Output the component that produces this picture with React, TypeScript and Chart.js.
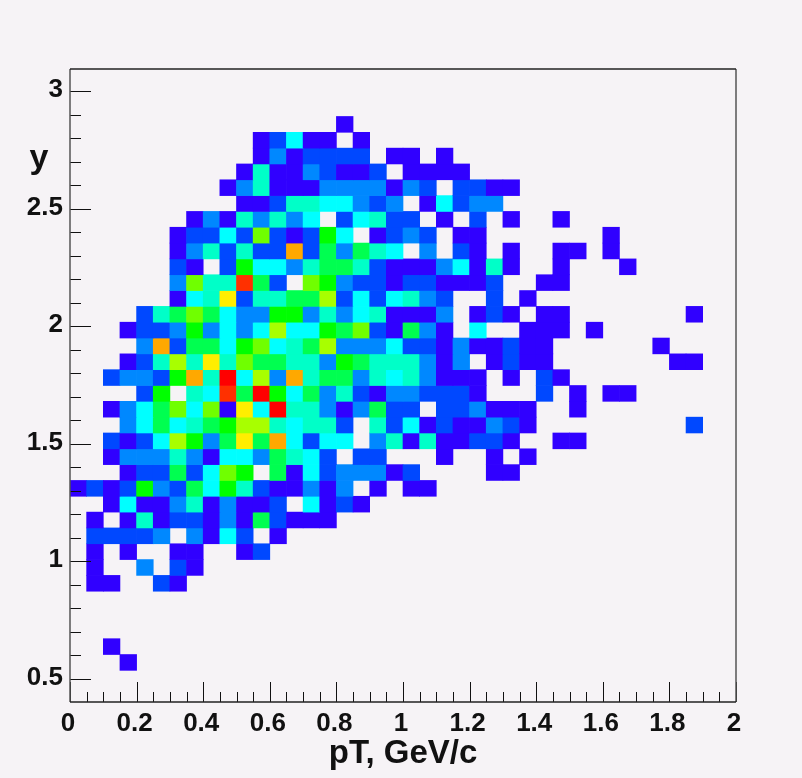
import React, { useEffect, useRef } from "react";
import { Chart, registerables } from "chart.js";

Chart.register(...registerables);

const BACKGROUND = "#f6f3f6";
const levelColors = ["", "#3000ff", "#0048ff", "#0088ff", "#00ffff", "#00ffc8", "#00ff50", "#00ff00", "#70ff00", "#a8ff00", "#ffee00", "#ffa800", "#ff3000", "#ff0000"];

const xBinWidth = 0.05;
const yLow = 0.4;
const yHigh = 3.095;
const yBinHeight = 0.067375;

const xMajor = [0, 0.2, 0.4, 0.6, 0.8, 1, 1.2, 1.4, 1.6, 1.8, 2];
const xMinor = [0.05, 0.1, 0.15, 0.25, 0.3, 0.35, 0.45, 0.5, 0.55, 0.65, 0.7, 0.75, 0.85, 0.9, 0.95, 1.05, 1.1, 1.15, 1.25, 1.3, 1.35, 1.45, 1.5, 1.55, 1.65, 1.7, 1.75, 1.85, 1.9, 1.95];
const yMajor = [0.5, 1, 1.5, 2, 2.5, 3];
const yMinor = [0.6, 0.7, 0.8, 0.9, 1.1, 1.2, 1.3, 1.4, 1.6, 1.7, 1.8, 1.9, 2.1, 2.2, 2.3, 2.4, 2.6, 2.7, 2.8, 2.9];

// Each row: y-bin index, first x-bin index, level per consecutive x bin (0 = empty)
const row02 = [1];
const row03 = [1];
const row07 = [1, 1, 0, 0, 2, 1];
const row08 = [1, 0, 0, 3, 0, 2, 1];
const row09 = [1, 0, 1, 0, 0, 1, 1, 0, 0, 1, 2];
const row10 = [2, 2, 2, 2, 3, 0, 3, 1, 4, 2, 0, 1];
const row11 = [1, 0, 1, 5, 1, 2, 2, 1, 3, 1, 6, 2, 1, 1, 1];
const row12 = [1, 4, 1, 1, 3, 5, 1, 3, 1, 1, 2, 0, 4, 1, 2, 1];
const row13 = [1, 2, 1, 2, 7, 3, 2, 6, 4, 7, 5, 2, 1, 1, 3, 1, 3, 0, 1, 0, 1, 1];
const row14 = [1, 2, 2, 6, 2, 4, 8, 7, 0, 6, 1, 4, 2, 3, 3, 3, 1, 2, 0, 0, 0, 0, 1, 1];
const row15 = [1, 3, 3, 3, 5, 3, 1, 4, 4, 3, 6, 5, 4, 2, 0, 2, 2, 0, 0, 0, 1, 0, 0, 1, 0, 1];
const row16 = [2, 1, 2, 4, 9, 7, 3, 6, 10, 6, 11, 4, 2, 4, 4, 0, 3, 5, 1, 5, 1, 1, 2, 2, 1, 0, 0, 1, 1];
const row17 = [3, 4, 6, 4, 5, 6, 7, 9, 9, 5, 4, 5, 5, 2, 0, 5, 2, 4, 1, 2, 1, 1, 3, 2, 1, 0, 0, 0, 0, 0, 0, 0, 0, 0, 2];
const row18 = [1, 3, 4, 6, 8, 4, 8, 1, 10, 4, 13, 5, 5, 3, 1, 3, 6, 2, 2, 0, 2, 2, 3, 1, 1, 1, 0, 0, 1];
const row19 = [2, 7, 0, 5, 4, 12, 6, 13, 7, 4, 6, 3, 5, 2, 1, 3, 3, 2, 2, 2, 1, 0, 0, 0, 2, 0, 1, 0, 1, 1];
const row20 = [2, 3, 3, 2, 7, 11, 5, 13, 4, 9, 3, 11, 5, 6, 6, 3, 5, 4, 5, 3, 1, 1, 1, 0, 1, 0, 2, 1];
const row21 = [1, 2, 5, 9, 5, 10, 5, 8, 6, 6, 5, 5, 3, 7, 6, 5, 5, 5, 3, 1, 3, 0, 1, 2, 1, 1, 0, 0, 0, 0, 0, 0, 0, 1, 1];
const row22 = [3, 11, 2, 6, 6, 4, 7, 8, 4, 5, 6, 9, 3, 3, 3, 4, 2, 2, 1, 3, 1, 1, 2, 1, 1, 0, 0, 0, 0, 0, 0, 1];
const row23 = [1, 2, 2, 3, 7, 3, 4, 3, 4, 9, 4, 4, 7, 6, 8, 2, 1, 6, 3, 1, 0, 4, 0, 0, 1, 1, 1, 0, 1];
const row24 = [2, 5, 6, 8, 6, 4, 3, 3, 7, 7, 3, 5, 3, 4, 5, 1, 1, 1, 3, 0, 1, 2, 1, 0, 1, 1, 0, 0, 0, 0, 0, 0, 0, 1];
const row25 = [1, 4, 5, 10, 2, 5, 5, 6, 6, 9, 2, 4, 2, 4, 5, 3, 2, 0, 0, 2, 0, 1];
const row26 = [3, 8, 5, 5, 12, 6, 2, 0, 8, 7, 3, 2, 2, 1, 2, 2, 1, 1, 1, 2, 0, 0, 1, 1];
const row27 = [2, 1, 0, 2, 7, 4, 4, 3, 5, 6, 6, 5, 2, 1, 1, 1, 3, 4, 1, 5, 1, 0, 0, 1, 0, 0, 0, 1];
const row28 = [1, 3, 5, 2, 5, 2, 2, 11, 2, 6, 3, 6, 5, 4, 0, 3, 0, 2, 1, 0, 1, 0, 0, 1, 1, 0, 1];
const row29 = [1, 2, 2, 4, 2, 8, 2, 1, 2, 7, 4, 0, 1, 2, 3, 2, 0, 1, 1, 0, 0, 0, 0, 0, 0, 0, 1];
const row30 = [1, 3, 1, 5, 3, 5, 3, 4, 0, 2, 4, 5, 2, 2, 0, 1, 0, 2, 0, 1, 0, 0, 1];
const row31 = [1, 1, 2, 5, 5, 4, 4, 3, 2, 3, 0, 1, 4, 2, 3, 3];
const row32 = [1, 3, 5, 1, 1, 1, 3, 3, 3, 3, 1, 3, 2, 0, 2, 2, 1, 1];
const row33 = [1, 5, 1, 1, 3, 2, 1, 1, 2, 0, 1, 1, 1, 1];
const row34 = [1, 3, 1, 2, 2, 2, 2, 0, 1, 1, 0, 1];
const row35 = [1, 2, 4, 1, 1, 0, 1];
const row36 = [1];

const rows: [number, number, number[]][] = [
  [2, 3, row02], [3, 2, row03], [7, 1, row07], [8, 1, row08], [9, 1, row09], [10, 1, row10],
  [11, 1, row11], [12, 2, row12], [13, 0, row13], [14, 3, row14], [15, 2, row15], [16, 2, row16],
  [17, 3, row17], [18, 2, row18], [19, 4, row19], [20, 2, row20], [21, 3, row21], [22, 4, row22],
  [23, 3, row23], [24, 4, row24], [25, 6, row25], [26, 6, row26], [27, 6, row27], [28, 6, row28],
  [29, 6, row29], [30, 7, row30], [31, 10, row31], [32, 9, row32], [33, 10, row33], [34, 11, row34],
  [35, 11, row35], [36, 16, row36],
];

const cells: { x: number; y: [number, number] }[] = [];
const cellColors: string[] = [];
rows.forEach(([r, start, values]) => {
  values.forEach((level, i) => {
    if (!level) return;
    cells.push({
      x: (start + i + 0.5) * xBinWidth,
      y: [yLow + r * yBinHeight, yLow + (r + 1) * yBinHeight],
    });
    cellColors.push(levelColors[level]);
  });
});

const framePlugin = {
  id: "rootFrame",
  afterDatasetsDraw(chart: any) {
    const { ctx, chartArea: a, scales } = chart;
    const x = scales.x;
    const y = scales.y;
    ctx.save();
    ctx.strokeStyle = "#111";
    ctx.lineWidth = 1;
    const seg = (x0: number, y0: number, x1: number, y1: number) => {
      ctx.beginPath();
      ctx.moveTo(x0, y0);
      ctx.lineTo(x1, y1);
      ctx.stroke();
    };
    xMinor.forEach((v) => { const p = Math.round(x.getPixelForValue(v)) + 0.5; seg(p, a.bottom, p, a.bottom - 10); });
    xMajor.forEach((v) => { const p = Math.round(x.getPixelForValue(v)) + 0.5; seg(p, a.bottom, p, a.bottom - 20); });
    yMinor.forEach((v) => { const p = Math.round(y.getPixelForValue(v)) + 0.5; seg(a.left, p, a.left + 11, p); });
    yMajor.forEach((v) => { const p = Math.round(y.getPixelForValue(v)) + 0.5; seg(a.left, p, a.left + 21, p); });
    ctx.lineWidth = 1.5;
    ctx.strokeStyle = "#555";
    seg(a.left, a.top, a.left, a.bottom);
    seg(a.right, a.top, a.right, a.bottom);
    ctx.strokeStyle = "#222";
    seg(a.left, a.top, a.right, a.top);
    seg(a.left, a.bottom, a.right, a.bottom);
    ctx.fillStyle = "#111";
    ctx.font = "bold 34px 'Liberation Sans'";
    ctx.textAlign = "center";
    ctx.textBaseline = "alphabetic";
    ctx.fillText("y", 39, 168);
    ctx.restore();
  },
};

export default function App() {
  const ref = useRef<HTMLCanvasElement>(null);
  useEffect(() => {
    document.body.style.background = BACKGROUND;
    const labelFont = { family: "'Liberation Sans'", size: 26, weight: "bold" as const };
    const chart = new Chart(ref.current as HTMLCanvasElement, {
      type: "bar",
      data: {
        datasets: [
          {
            data: cells as any,
            backgroundColor: cellColors,
            borderWidth: 0,
            borderSkipped: false,
            barPercentage: 1,
            categoryPercentage: 1,
            grouped: false,
          } as any,
        ],
      },
      options: {
        animation: false,
        responsive: false,
        parsing: { xAxisKey: "x", yAxisKey: "y" } as any,
        layout: { padding: { top: 69, right: 66, left: 0, bottom: 0 } },
        plugins: { legend: { display: false }, tooltip: { enabled: false } },
        scales: {
          x: {
            type: "linear",
            min: 0,
            max: 2,
            offset: false,
            grid: { display: false, drawTicks: false },
            border: { display: false },
            ticks: {
              stepSize: 0.2,
              maxRotation: 0,
              autoSkip: false,
              padding: 6,
              labelOffset: -2,
              color: "#111",
              font: labelFont,
              callback: (v: any) => String(Math.round(Number(v) * 10) / 10),
            },
            title: {
              display: true,
              text: "pT, GeV/c",
              color: "#111",
              font: { family: "'Liberation Sans'", size: 33, weight: "bold" },
              padding: { top: 0, bottom: 4 },
            },
            afterFit: (s: any) => { s.height = 76; },
          },
          y: {
            type: "linear",
            min: yLow,
            max: yHigh,
            grid: { display: false, drawTicks: false },
            border: { display: false },
            ticks: {
              stepSize: 0.5,
              includeBounds: false,
              autoSkip: false,
              padding: 7,
              labelOffset: -1,
              color: "#111",
              font: labelFont,
              callback: (v: any) => String(Math.round(Number(v) * 10) / 10),
            },
            afterFit: (s: any) => { s.width = 70; },
          },
        },
      } as any,
      plugins: [framePlugin, {
        id: "bg",
        beforeDraw(c: any) {
          c.ctx.save();
          c.ctx.fillStyle = BACKGROUND;
          c.ctx.fillRect(0, 0, c.width, c.height);
          c.ctx.restore();
        },
      }],
    });
    return () => chart.destroy();
  }, []);
  return (
    <canvas
      ref={ref}
      width={802}
      height={778}
      style={{ display: "block", position: "fixed", left: 0, top: 0, width: 802, height: 778 }}
    />
  );
}
